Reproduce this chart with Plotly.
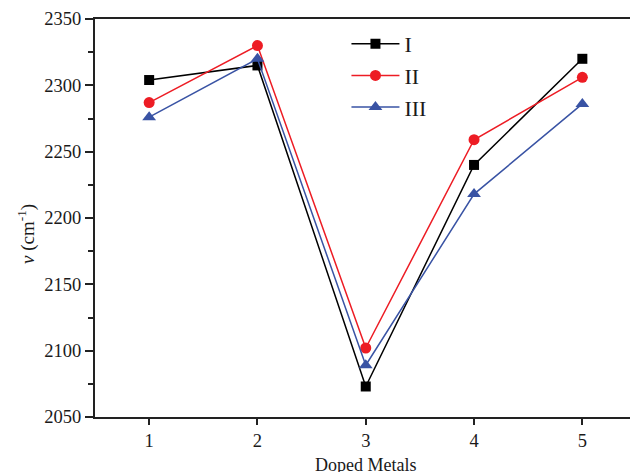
import plotly.graph_objects as go

doped_metals = [1, 2, 3, 4, 5]
series_I = [2304, 2315, 2073, 2240, 2320]
series_II = [2287, 2330, 2102, 2259, 2306]
series_III = [2276, 2320, 2089, 2218, 2286]
series_names = ["I", "II", "III"]

FONT = "Liberation Serif, Times New Roman, serif"
TXT = "#1a1a1a"

fig = go.Figure()
styles = [
    ("#000000", "square", 10),
    ("#ed1c24", "circle", 11),
    ("#3953a4", "triangle-up", 12),
]
for name, vals, (col, sym, sz) in zip(series_names, [series_I, series_II, series_III], styles):
    fig.add_trace(go.Scatter(
        x=doped_metals, y=vals, name=name, mode="lines+markers",
        line=dict(color=col, width=1.5),
        marker=dict(symbol=sym, size=sz, color=col),
    ))

fig.update_layout(
    width=630, height=472,
    margin=dict(l=95, r=0, t=19, b=55),
    plot_bgcolor="white", paper_bgcolor="white",
    font=dict(family=FONT, size=18, color=TXT),
    showlegend=True,
    legend=dict(x=0.47, y=0.99, xanchor="left", yanchor="top",
                bgcolor="rgba(0,0,0,0)", font=dict(size=22, family=FONT, color=TXT),
                itemwidth=48, tracegroupgap=0),
    xaxis=dict(range=[0.5, 5.44], tickvals=doped_metals, showgrid=False, zeroline=False,
               showline=True, linecolor="#222", linewidth=2, mirror=True,
               ticks="outside", ticklen=6, tickwidth=1.5, tickcolor="#222",
               tickfont=dict(size=18.5, family=FONT, color=TXT)),
    yaxis=dict(range=[2050, 2350], dtick=50, showgrid=False, zeroline=False,
               showline=True, linecolor="#222", linewidth=2, mirror=False,
               ticks="outside", ticklen=8, tickwidth=1.5, tickcolor="#222",
               tickfont=dict(size=18.5, family=FONT, color=TXT),
               minor=dict(ticks="outside", ticklen=5, dtick=25, tickwidth=1.5, tickcolor="#222")),
    annotations=[
        dict(text="Doped Metals", xref="paper", yref="paper", x=0.5, y=0, yshift=-36,
             xanchor="center", yanchor="top", showarrow=False,
             font=dict(size=18, family=FONT, color=TXT), xshift=3),
        dict(text="<i>ν</i> (cm<sup>-1</sup>)", xref="paper", yref="paper", x=0, xshift=-69,
             y=0.5, yshift=-16, textangle=-90, xanchor="center", yanchor="middle", showarrow=False,
             font=dict(size=19, family=FONT, color=TXT)),
    ],
)

fig.write_html("out.html", config={"displayModeBar": False},
               post_script="document.body.style.margin='0';document.body.style.overflow='hidden';")
